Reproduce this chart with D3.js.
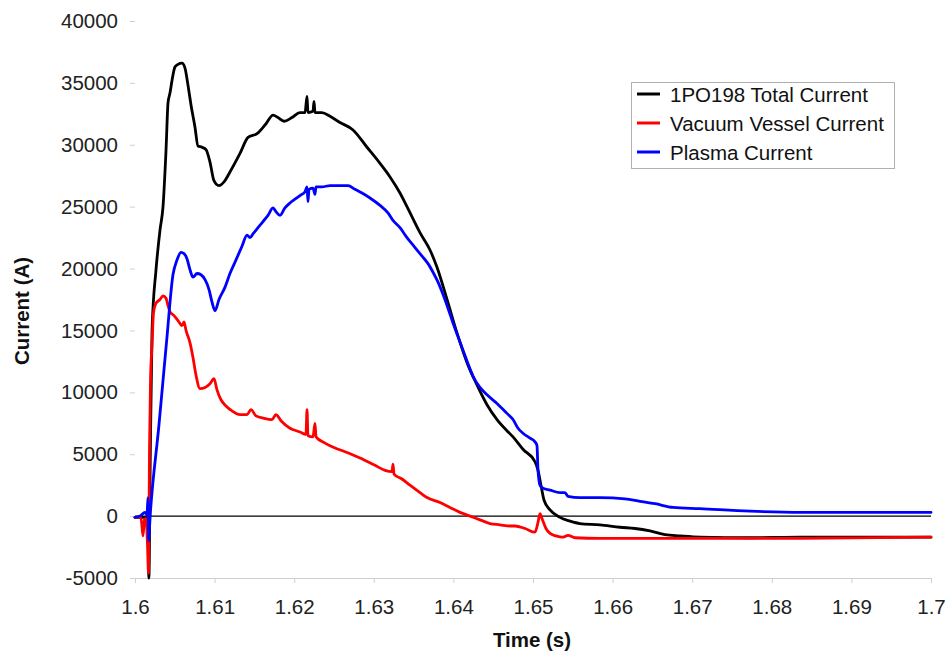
<!DOCTYPE html>
<html>
<head>
<meta charset="utf-8">
<script src="https://cdn.jsdelivr.net/npm/d3@7"></script>
<style>
  html, body { margin: 0; padding: 0; background: #fff; }
  svg { display: block; font-family: "Liberation Sans", Arial, sans-serif; }
</style>
</head>
<body>
<svg id="chart" width="947" height="653"></svg>
<script>
// Time axis ticks (s) and current axis ticks (A)
const timeTicks = [1.6, 1.61, 1.62, 1.63, 1.64, 1.65, 1.66, 1.67, 1.68, 1.69, 1.7];
const timeTickLabels = ["1.6", "1.61", "1.62", "1.63", "1.64", "1.65", "1.66", "1.67", "1.68", "1.69", "1.7"];
const currentTicks = [-5000, 0, 5000, 10000, 15000, 20000, 25000, 30000, 35000, 40000];
const currentTickLabels = ["-5000", "0", "5000", "10000", "15000", "20000", "25000", "30000", "35000", "40000"];

const seriesNames = ["1PO198 Total Current", "Vacuum Vessel Current", "Plasma Current"];

// 1PO198 total current
const totalTime = [1.6, 1.6014, 1.6016, 1.60175, 1.6019, 1.60214, 1.60264, 1.60314, 1.60352, 1.6039, 1.60415, 1.6044, 1.60465, 1.60503, 1.6054, 1.6059, 1.60628, 1.60666, 1.60704, 1.60754, 1.60791, 1.60842, 1.60892, 1.60942, 1.60992, 1.61055, 1.61118, 1.61193, 1.61319, 1.6142, 1.61533, 1.61646, 1.61734, 1.61796, 1.61872, 1.61972, 1.62073, 1.62136, 1.62161, 1.62173, 1.62236, 1.62249, 1.62261, 1.62349, 1.6245, 1.62575, 1.62739, 1.62915, 1.63078, 1.63204, 1.63329, 1.63417, 1.6358, 1.63706, 1.63794, 1.6392, 1.64045, 1.64171, 1.64296, 1.64422, 1.64548, 1.64673, 1.64749, 1.64874, 1.65025, 1.65063, 1.651, 1.65138, 1.65214, 1.65339, 1.65465, 1.6559, 1.65842, 1.66093, 1.66281, 1.6647, 1.66658, 1.66847, 1.67098, 1.67726, 1.68354, 1.7];
const totalCurrent = [-100, -100, 0, -5000, 3700, 15000, 19900, 23100, 25000, 29600, 33400, 34200, 35200, 36300, 36500, 36600, 36200, 34800, 33200, 31400, 29900, 29800, 29600, 28600, 27100, 26700, 27000, 27800, 29300, 30600, 30900, 31700, 32400, 32200, 31900, 32200, 32600, 32600, 33900, 32600, 32700, 33500, 32600, 32600, 32300, 31800, 31200, 29800, 28500, 27400, 26100, 25000, 22900, 21500, 20100, 17500, 14800, 12400, 10600, 9000, 7800, 6900, 6400, 5400, 4400, 3700, 2500, 1300, 500, -100, -400, -600, -700, -900, -1000, -1200, -1500, -1600, -1700, -1750, -1700, -1700];

// Vacuum vessel current
const vesselTime = [1.6, 1.60075, 1.601, 1.60119, 1.60138, 1.60157, 1.6017, 1.60182, 1.60195, 1.60214, 1.60232, 1.60264, 1.60314, 1.60352, 1.6039, 1.60415, 1.6044, 1.6049, 1.6054, 1.6059, 1.60616, 1.60641, 1.60691, 1.60729, 1.60766, 1.60817, 1.6088, 1.60942, 1.60992, 1.6103, 1.6108, 1.61143, 1.61219, 1.61319, 1.61407, 1.61457, 1.6152, 1.61621, 1.61721, 1.61771, 1.61834, 1.61947, 1.62073, 1.62148, 1.62161, 1.62173, 1.62236, 1.62261, 1.62274, 1.62387, 1.62513, 1.62638, 1.62827, 1.63015, 1.63141, 1.63229, 1.63241, 1.63254, 1.63354, 1.63455, 1.6358, 1.63668, 1.63832, 1.63957, 1.64083, 1.64209, 1.64334, 1.6446, 1.64585, 1.64711, 1.64774, 1.649, 1.65025, 1.65063, 1.65088, 1.65113, 1.65163, 1.65214, 1.65289, 1.65377, 1.6544, 1.65528, 1.65842, 1.6647, 1.67098, 1.68354, 1.7];
const vesselCurrent = [-100, -100, -1600, -300, -200, -2300, -4600, 5300, 11000, 13800, 16400, 17200, 17500, 17800, 17600, 17000, 16500, 16200, 15800, 15400, 15700, 15000, 14000, 12800, 11400, 10300, 10400, 10700, 11100, 10200, 9400, 8900, 8500, 8200, 8200, 8600, 8100, 7900, 7800, 8200, 7700, 7100, 6800, 6600, 8600, 6500, 6400, 7500, 6400, 5900, 5500, 5200, 4700, 4100, 3700, 3600, 4200, 3400, 3000, 2500, 1900, 1500, 1100, 700, 300, 0, -300, -600, -700, -800, -800, -1000, -1300, -500, 200, -200, -1000, -1400, -1600, -1700, -1550, -1750, -1800, -1800, -1800, -1800, -1700];

// Plasma current
const plasmaTime = [1.6, 1.60063, 1.601, 1.60126, 1.60151, 1.60163, 1.6017, 1.6019, 1.603, 1.60398, 1.60477, 1.60528, 1.60578, 1.60616, 1.60653, 1.60691, 1.60729, 1.60779, 1.60829, 1.6088, 1.6093, 1.60967, 1.61005, 1.61055, 1.61131, 1.61193, 1.61269, 1.61344, 1.61407, 1.61445, 1.61482, 1.61545, 1.61608, 1.61671, 1.61734, 1.61771, 1.61822, 1.61884, 1.61947, 1.6201, 1.62073, 1.62136, 1.62161, 1.62173, 1.62186, 1.62236, 1.62261, 1.62274, 1.62349, 1.6245, 1.62575, 1.62676, 1.62764, 1.62852, 1.62952, 1.63078, 1.63178, 1.63241, 1.63329, 1.63417, 1.63518, 1.63606, 1.63681, 1.63744, 1.63807, 1.6387, 1.63932, 1.63995, 1.64058, 1.64121, 1.64184, 1.64246, 1.64334, 1.64422, 1.64548, 1.64673, 1.64749, 1.64812, 1.64874, 1.64962, 1.65025, 1.6505, 1.65063, 1.65088, 1.65113, 1.65214, 1.65339, 1.65402, 1.6544, 1.6559, 1.65842, 1.66156, 1.66344, 1.66533, 1.66759, 1.67098, 1.67726, 1.68354, 1.7];
const plasmaCurrent = [-100, 0, 200, 300, 100, 1500, -2000, 0, 7300, 14200, 19500, 20700, 21300, 21200, 20800, 19900, 19300, 19600, 19500, 19100, 18300, 17300, 16600, 17500, 18500, 19600, 20700, 21800, 22700, 22500, 22800, 23300, 23800, 24300, 24900, 24600, 24300, 24900, 25300, 25600, 25900, 26200, 26600, 25400, 26400, 26500, 26000, 26600, 26600, 26700, 26700, 26700, 26400, 26100, 25700, 25100, 24500, 23900, 23300, 22500, 21700, 21000, 20400, 19700, 18900, 17900, 16800, 15600, 14500, 13400, 12300, 11300, 10400, 9800, 9100, 8300, 7800, 7100, 6700, 6300, 6000, 5700, 3700, 2500, 2300, 2100, 1900, 1900, 1600, 1500, 1500, 1400, 1200, 1000, 700, 600, 400, 300, 300];

const seriesColors = ["#000000", "#ff0000", "#0000ff"];

const svg = d3.select("#chart");

const x = d3.scaleLinear().domain([1.6, 1.7]).range([135, 931]);
const y = d3.scaleLinear().domain([-5000, 40000]).range([578, 21]);

// Y axis: ticks only, no spine
const yAxis = svg.append("g")
  .attr("transform", "translate(135,0)")
  .call(d3.axisLeft(y).tickValues(currentTicks).tickSize(5).tickPadding(12)
    .tickFormat((d, i) => currentTickLabels[i]));
yAxis.select(".domain").remove();
yAxis.selectAll(".tick line").attr("stroke", "#d0d0d0");
yAxis.selectAll(".tick text").attr("font-size", 20.5).attr("fill", "#222")
  .attr("font-family", "Liberation Sans, Arial, sans-serif");

// X axis along the bottom of the plot
const xAxis = svg.append("g")
  .attr("transform", "translate(0,578)")
  .call(d3.axisBottom(x).tickValues(timeTicks).tickSize(5).tickPadding(16)
    .tickFormat((d, i) => timeTickLabels[i]));
xAxis.select(".domain").attr("stroke", "#d0d0d0");
xAxis.selectAll(".tick line").attr("stroke", "#d0d0d0");
xAxis.selectAll(".tick text").attr("font-size", 20.5).attr("fill", "#222")
  .attr("font-family", "Liberation Sans, Arial, sans-serif");

// Zero reference line
svg.append("line")
  .attr("x1", x(1.6)).attr("x2", x(1.7))
  .attr("y1", y(0)).attr("y2", y(0))
  .attr("stroke", "#000").attr("stroke-width", 1.2);

// Series traces
const series = [
  { t: totalTime, v: totalCurrent },
  { t: vesselTime, v: vesselCurrent },
  { t: plasmaTime, v: plasmaCurrent }
];
const line = d3.line().curve(d3.curveMonotoneX).x(d => x(d[0])).y(d => y(d[1]));
series.forEach((s, i) => {
  svg.append("path")
    .datum(s.t.map((t, k) => [t, s.v[k]]))
    .attr("d", line)
    .attr("fill", "none")
    .attr("stroke", seriesColors[i])
    .attr("stroke-width", 2.8)
    .attr("stroke-linejoin", "round")
    .attr("stroke-linecap", "round");
});

// Axis titles
svg.append("text")
  .attr("x", 532).attr("y", 647)
  .attr("text-anchor", "middle")
  .attr("font-size", 20.5).attr("font-weight", "bold").attr("fill", "#111")
  .text("Time (s)");
svg.append("text")
  .attr("transform", "translate(29,311) rotate(-90)")
  .attr("text-anchor", "middle")
  .attr("font-size", 20.5).attr("font-weight", "bold").attr("fill", "#111")
  .text("Current (A)");

// Legend
const legend = svg.append("g");
legend.append("rect")
  .attr("x", 631.5).attr("y", 82.5).attr("width", 263).attr("height", 86)
  .attr("fill", "#fff").attr("stroke", "#b0b0b0").attr("stroke-width", 1);
seriesNames.forEach((name, i) => {
  const ly = 94 + i * 29;
  legend.append("line")
    .attr("x1", 637).attr("x2", 660).attr("y1", ly).attr("y2", ly)
    .attr("stroke", seriesColors[i]).attr("stroke-width", 3);
  legend.append("text")
    .attr("x", 670).attr("y", ly + 8)
    .attr("font-size", 20.5).attr("fill", "#111")
    .text(name);
});
</script>
</body>
</html>
